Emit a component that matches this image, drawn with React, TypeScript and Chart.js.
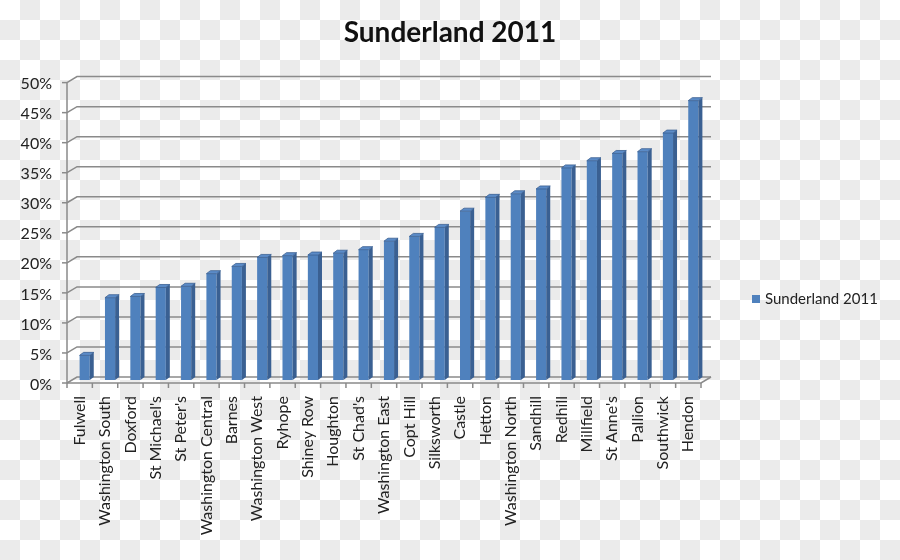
import { useEffect, useRef } from "react";
import { Chart, registerables } from "chart.js";

Chart.register(...registerables);

const categories = [
  "Fulwell", "Washington South", "Doxford", "St Michael's", "St Peter's",
  "Washington Central", "Barnes", "Washington West", "Ryhope", "Shiney Row",
  "Houghton", "St Chad's", "Washington East", "Copt Hill", "Silksworth",
  "Castle", "Hetton", "Washington North", "Sandhill", "Redhill",
  "Millfield", "St Anne's", "Pallion", "Southwick", "Hendon",
];

const sunderland2011 = [
  4.1, 13.7, 13.9, 15.4, 15.6,
  17.7, 18.9, 20.4, 20.7, 20.8,
  21.1, 21.7, 23.1, 23.9, 25.4,
  28.1, 30.4, 31.0, 31.8, 35.3,
  36.5, 37.7, 38.0, 41.1, 46.5,
];

const yTickValues = [0, 5, 10, 15, 20, 25, 30, 35, 40, 45, 50];
const seriesLabel = "Sunderland 2011";
const titleText = "Sunderland 2011";

const FONT = "Lato, 'Open Sans', sans-serif";
const DX = 5; // offset of bar plane from front plane (x)
const DY = 3; // offset of bar plane from front plane (y, upward)
const BAR_DX = 4;
const BAR_DY = 3;
const GRID = "#8a8a8a";

const threeD = {
  id: "threeD",
  beforeDraw(chart: any) {
    const ctx = chart.ctx;
    const W = chart.width;
    const H = chart.height;
    ctx.save();
    ctx.fillStyle = "#ffffff";
    ctx.fillRect(0, 0, W, H);
    ctx.fillStyle = "#ebebeb";
    for (let y = 0; y < H; y += 20) {
      for (let x = 0; x < W; x += 20) {
        if (((x / 20) + (y / 20)) % 2 === 1) ctx.fillRect(x, y, 20, 20);
      }
    }
    ctx.restore();
  },
  beforeDatasetsDraw(chart: any) {
    const ctx = chart.ctx;
    const ys = chart.scales.y;
    const area = chart.chartArea;
    const left = area.left;
    const right = area.right;
    ctx.save();
    ctx.strokeStyle = GRID;
    ctx.lineWidth = 1.5;
    yTickValues.forEach((v) => {
      const yb = ys.getPixelForValue(v);
      ctx.beginPath();
      ctx.moveTo(left - DX, yb + DY);
      ctx.lineTo(left + DX, yb - DY);
      ctx.lineTo(right + DX, yb - DY);
      ctx.stroke();
      ctx.beginPath();
      ctx.moveTo(left - DX - 5, yb + DY);
      ctx.lineTo(left - DX, yb + DY);
      ctx.stroke();
    });
    const y0 = ys.getPixelForValue(0);
    const yTop = ys.getPixelForValue(50);
    ctx.beginPath();
    ctx.moveTo(left - DX, yTop + DY);
    ctx.lineTo(left - DX, y0 + DY);
    ctx.stroke();
    ctx.beginPath();
    ctx.moveTo(left - DX, y0 + DY);
    ctx.lineTo(right - DX, y0 + DY);
    ctx.lineTo(right + DX, y0 - DY);
    ctx.stroke();
    const n = categories.length;
    const step = (right - left) / n;
    for (let i = 0; i <= n; i++) {
      const x = left - DX + i * step;
      ctx.beginPath();
      ctx.moveTo(x, y0 + DY);
      ctx.lineTo(x, y0 + DY + 5);
      ctx.stroke();
    }
    ctx.restore();
  },
  afterDatasetsDraw(chart: any) {
    const ctx = chart.ctx;
    const meta = chart.getDatasetMeta(0);
    ctx.save();
    meta.data.forEach((bar: any) => {
      const { x, y, base, width } = bar.getProps(["x", "y", "base", "width"], true);
      const l = x - width / 2;
      const r = x + width / 2;
      ctx.fillStyle = "#3a6092";
      ctx.beginPath();
      ctx.moveTo(r, y);
      ctx.lineTo(r + BAR_DX, y - BAR_DY);
      ctx.lineTo(r + BAR_DX, base - BAR_DY);
      ctx.lineTo(r, base);
      ctx.closePath();
      ctx.fill();
      ctx.fillStyle = "#5b8bc7";
      ctx.beginPath();
      ctx.moveTo(l, y);
      ctx.lineTo(l + BAR_DX, y - BAR_DY);
      ctx.lineTo(r + BAR_DX, y - BAR_DY);
      ctx.lineTo(r, y);
      ctx.closePath();
      ctx.fill();
      ctx.strokeStyle = "#3a6092";
      ctx.lineWidth = 0.8;
      ctx.stroke();
    });
    ctx.restore();
  },
  afterDraw(chart: any) {
    const ctx = chart.ctx;
    ctx.save();
    ctx.fillStyle = "#4f81bd";
    ctx.fillRect(752, 295, 8, 8);
    ctx.fillStyle = "#222222";
    ctx.font = `15px ${FONT}`;
    ctx.textBaseline = "middle";
    ctx.textAlign = "left";
    ctx.fillText(seriesLabel, 765, 299);
    ctx.restore();
  },
};

export default function App() {
  const ref = useRef<HTMLCanvasElement | null>(null);
  useEffect(() => {
    if (!ref.current) return;
    const chart = new Chart(ref.current, {
      type: "bar",
      data: {
        labels: categories,
        datasets: [
          {
            label: seriesLabel,
            data: sunderland2011,
            backgroundColor: "#4f81bd",
            borderWidth: 0,
            barPercentage: 0.4,
            categoryPercentage: 1,
          },
        ],
      },
      options: {
        responsive: false,
        animation: false,
        layout: { padding: 0 },
        plugins: {
          legend: { display: false },
          tooltip: { enabled: false },
          title: {
            display: true,
            text: titleText,
            color: "#111111",
            font: { family: FONT, size: 28, weight: "bold" },
            padding: { top: 16, bottom: 30 },
          },
        },
        scales: {
          x: {
            grid: { display: false, drawTicks: false, tickLength: 0 },
            border: { display: false },
            ticks: {
              autoSkip: false,
              minRotation: 90,
              maxRotation: 90,
              padding: 16,
              labelOffset: -DX,
              color: "#222222",
              font: { family: FONT, size: 16 },
            },
            afterFit: (s: any) => {
              s.height = 180;
            },
          },
          y: {
            min: 0,
            max: 50,
            grid: { display: false, drawTicks: false, tickLength: 0 },
            border: { display: false },
            ticks: {
              stepSize: 5,
              padding: 20,
              labelOffset: 4.5,
              color: "#222222",
              font: { family: FONT, size: 16 },
              callback: (v: any) => `${v}%`,
            },
            afterFit: (s: any) => {
              s.width = 72;
            },
          },
          spacer: {
            type: "linear",
            position: "right",
            display: true,
            grid: { display: false },
            border: { display: false },
            ticks: { display: false },
            afterFit: (s: any) => {
              s.width = 194;
            },
          },
        },
      },
      plugins: [threeD],
    });
    return () => chart.destroy();
  }, []);
  return (
    <div style={{ position: "fixed", left: 0, top: 0, width: 900, height: 560 }}>
      <canvas ref={ref} width={900} height={560} />
    </div>
  );
}
